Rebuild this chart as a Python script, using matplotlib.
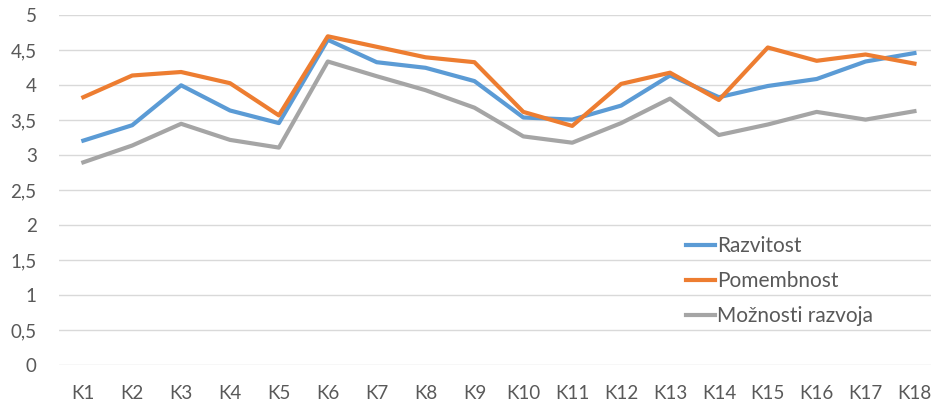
import numpy as np
import matplotlib
matplotlib.use('Agg')
import matplotlib.pyplot as plt

# categories and series
labels = ['K%d' % i for i in range(1, 19)]
razvitost = [3.21, 3.43, 4.00, 3.64, 3.46, 4.65, 4.33, 4.25, 4.06,
             3.54, 3.51, 3.71, 4.14, 3.83, 3.99, 4.09, 4.34, 4.46]
pomembnost = [3.83, 4.14, 4.19, 4.03, 3.57, 4.70, 4.55, 4.40, 4.33,
              3.62, 3.42, 4.02, 4.18, 3.79, 4.54, 4.35, 4.44, 4.31]
moznosti = [2.90, 3.14, 3.45, 3.22, 3.11, 4.34, 4.13, 3.93, 3.68,
            3.27, 3.18, 3.46, 3.81, 3.29, 3.44, 3.62, 3.51, 3.63]
yticks = [0, 0.5, 1, 1.5, 2, 2.5, 3, 3.5, 4, 4.5, 5]
ytick_labels = ['0', '0,5', '1', '1,5', '2', '2,5', '3', '3,5', '4', '4,5', '5']

plt.rcParams['font.family'] = ['Lato', 'DejaVu Sans']
txt = '#595959'

fig = plt.figure(figsize=(9.31, 4.04), dpi=100)
# axes a bit wider than the figure: the reference is cropped on the right
ax = fig.add_axes([58.9 / 931, 38.7 / 404, 880 / 931, 350 / 404])

x = np.arange(len(labels))
lw = 3.0
ax.plot(x, razvitost, color='#5B9BD5', lw=lw, label='Razvitost', solid_joinstyle='round')
ax.plot(x, pomembnost, color='#ED7D31', lw=lw, label='Pomembnost', solid_joinstyle='round')
ax.plot(x, moznosti, color='#A5A5A5', lw=lw, label='Možnosti razvoja', solid_joinstyle='round')

ax.set_xlim(-0.5, len(labels) - 0.5)
ax.set_ylim(0, 5)
ax.set_yticks(yticks)
ax.set_yticklabels(ytick_labels)
ax.set_xticks(x)
ax.set_xticklabels(labels)
ax.tick_params(axis='both', length=0, labelsize=13.5, colors=txt)
ax.tick_params(axis='y', pad=16)
ax.tick_params(axis='x', pad=14.5)
ax.grid(axis='y', color='#D9D9D9', lw=1)
ax.set_axisbelow(True)
for s in ax.spines.values():
    s.set_visible(False)

leg = fig.legend(loc='upper left', bbox_to_anchor=(686 / 931, 1 - 236 / 404),
                 frameon=False, fontsize=15, handlelength=1.4,
                 handletextpad=0.1, labelspacing=0.72, borderaxespad=0,
                 borderpad=0)
for t in leg.get_texts():
    t.set_color(txt)

fig.savefig('out.png', dpi=100)
